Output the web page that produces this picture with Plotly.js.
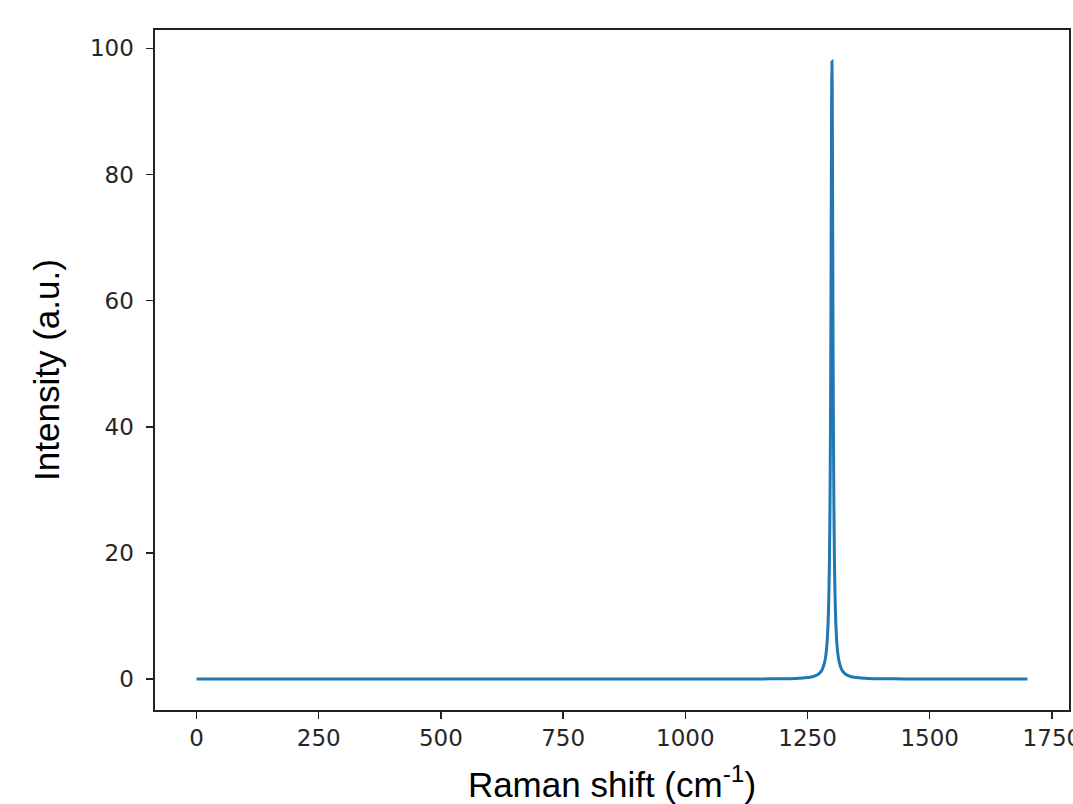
<!DOCTYPE html>
<html>
<head>
<meta charset="utf-8">
<script src="https://cdn.plot.ly/plotly-3.0.1.min.js"></script>
<style>
html,body{margin:0;padding:0;background:#fff;}
#chart{width:1073px;height:804px;}
</style>
</head>
<body>
<div id="chart"></div>
<script>
// Raman shift (cm^-1)
const ramanShift = [0, 100, 200, 300, 400, 500, 600, 700, 800, 900, 1000, 1100, 1150, 1200, 1225, 1250, 1260, 1270, 1275, 1280, 1285, 1288, 1290, 1292, 1293, 1294, 1295, 1296, 1297, 1297.5, 1298, 1298.5, 1299, 1299.5, 1300, 1300.5, 1301, 1301.5, 1302, 1302.5, 1303, 1304, 1305, 1306, 1307, 1308, 1310, 1312, 1315, 1320, 1325, 1330, 1340, 1350, 1375, 1400, 1450, 1500, 1600, 1700];
// Intensity (a.u.)
const intensity = [0.000, 0.000, 0.001, 0.001, 0.001, 0.001, 0.001, 0.002, 0.003, 0.004, 0.007, 0.015, 0.027, 0.061, 0.109, 0.244, 0.382, 0.677, 0.97, 1.51, 2.65, 4.08, 5.76, 8.72, 11.1, 14.5, 19.6, 27.5, 40.2, 49.0, 59.8, 72.1, 84.5, 94.2, 98.0, 94.2, 84.5, 72.1, 59.8, 49.0, 40.2, 27.5, 19.6, 14.5, 11.1, 8.72, 5.76, 4.08, 2.65, 1.51, 0.97, 0.677, 0.382, 0.244, 0.109, 0.061, 0.027, 0.015, 0.007, 0.004];
const xTicks = [0, 250, 500, 750, 1000, 1250, 1500, 1750];
const yTicks = [0, 20, 40, 60, 80, 100];

const tickFont = {family: 'DejaVu Sans', size: 23, color: '#262626'};
const titleFont = {family: 'Liberation Sans, Arial', size: 35, color: '#000'};

Plotly.newPlot('chart', [{
  x: ramanShift,
  y: intensity,
  type: 'scatter',
  mode: 'lines',
  line: {color: '#1f77b4', width: 3, shape: 'spline', smoothing: 0.6},
  hoverinfo: 'skip'
}], {
  width: 1073, height: 804,
  paper_bgcolor: '#fff', plot_bgcolor: '#fff',
  margin: {l: 155, r: 4, t: 30, b: 94},
  showlegend: false,
  xaxis: {
    range: [-85, 1785],
    tickvals: xTicks, ticktext: xTicks.map(String),
    ticks: 'outside', ticklen: 7, tickwidth: 1.5, tickcolor: '#222',
    showline: true, linecolor: '#222', linewidth: 1.6, mirror: true,
    showgrid: false, zeroline: false,
    tickfont: tickFont,
    ticklabeloverflow: 'allow',
    title: {text: 'Raman shift (cm<sup>-1</sup>)', font: titleFont, standoff: 24},
    automargin: false
  },
  yaxis: {
    range: [-4.9, 102.9],
    tickvals: yTicks, ticktext: yTicks.map(String),
    ticks: 'outside', ticklen: 7, tickwidth: 1.5, tickcolor: '#222',
    showline: true, linecolor: '#222', linewidth: 1.6, mirror: true,
    showgrid: false, zeroline: false,
    tickfont: tickFont,
    ticklabelstandoff: 8,
    title: {text: 'Intensity (a.u.)', font: titleFont, standoff: 19},
    automargin: false
  }
}, {displayModeBar: false, staticPlot: true});
</script>
</body>
</html>
